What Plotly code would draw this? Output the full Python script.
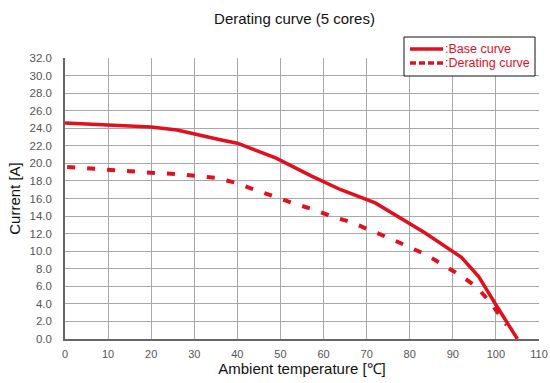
import plotly.graph_objects as go

# 基础曲线
base_x = [0, 10, 20, 26, 31, 36, 40, 49, 57, 64, 72, 83.5, 92, 96, 100, 105]
base_y = [24.6, 24.4, 24.15, 23.8, 23.2, 22.7, 22.3, 20.6, 18.6, 17.0, 15.5, 12.1, 9.3, 7.1, 3.9, 0.0]

# 降额曲线
derate_x = [0.5, 6.5, 11, 16, 21, 25.5, 30, 35, 39.5, 44, 48.5, 52.7, 57.3, 61.7, 66.4, 71,
            75.2, 79.3, 83.8, 87.9, 91.9, 95.6, 98.8, 102.5]
derate_y = [19.6, 19.4, 19.15, 19.0, 18.9, 18.8, 18.6, 18.35, 17.8, 17.0, 16.2, 15.5, 14.8, 14.0,
            13.3, 12.4, 11.5, 10.6, 9.6, 8.4, 7.2, 5.9, 4.1, 1.6]

legend_names = [":Base curve", ":Derating curve"]

RED = '#e0101e'

W, H = 550, 383
L, R, T, B = 65, 11, 58, 44
PW, PH = W - L - R, H - T - B


def px(x):
    """像素 -> paper 坐标"""
    return (x - L) / PW


def py(y):
    return 1 - (y - T) / PH


fig = go.Figure()
fig.add_trace(go.Scatter(
    x=base_x, y=base_y, mode='lines', name=legend_names[0],
    line=dict(color=RED, width=3.5),
))
fig.add_trace(go.Scatter(
    x=derate_x, y=derate_y, mode='lines', name=legend_names[1],
    line=dict(color=RED, width=4, dash='8px,12px'),
))

# 图例（手工绘制，贴近原图的紧凑样式）
shapes = [
    dict(type='rect', xref='paper', yref='paper', x0=px(404), x1=px(535), y0=py(76), y1=py(37),
         line=dict(color='#111', width=1), fillcolor='white', layer='above'),
    dict(type='line', xref='paper', yref='paper', x0=px(410), x1=px(443), y0=py(49), y1=py(49),
         line=dict(color=RED, width=3.5), layer='above'),
    dict(type='line', xref='paper', yref='paper', x0=px(410), x1=px(443), y0=py(63), y1=py(63),
         line=dict(color=RED, width=3.5, dash='6px,3px'), layer='above'),
]
annotations = [
    dict(text=legend_names[i], xref='paper', yref='paper', x=px(443), y=py(yy),
         xanchor='left', yanchor='middle', showarrow=False,
         font=dict(size=12.5, color=RED))
    for i, yy in enumerate([49, 63])
]

fig.update_layout(
    width=W, height=H,
    title=dict(text="Derating curve (5 cores)", x=294.5 / W, xanchor='center',
               y=1 - 19 / H, yanchor='middle', font=dict(size=15, color='#111')),
    font=dict(family='Liberation Sans, Arial, sans-serif'),
    margin=dict(l=L, r=R, t=T, b=B, autoexpand=False),
    paper_bgcolor='white',
    plot_bgcolor='white',
    showlegend=False,
    shapes=shapes,
    annotations=annotations,
)
fig.update_xaxes(
    range=[0, 110], dtick=10, tick0=0, automargin=False,
    showgrid=True, gridcolor='#a8a8a8', gridwidth=1,
    showline=True, linecolor='#666', linewidth=1.5,
    tickfont=dict(size=11, color='#555'), ticks='', ticklabelstandoff=4,
    title=dict(text="Ambient temperature [℃]", font=dict(size=15, color='#111'), standoff=3),
    zeroline=False,
)
fig.update_yaxes(
    range=[0, 32], dtick=2, tickformat='.1f', automargin=False,
    showgrid=True, gridcolor='#a8a8a8', gridwidth=1,
    showline=True, linecolor='#666', linewidth=1.5,
    tickfont=dict(size=11.5, color='#555'), ticks='', ticklabelstandoff=9,
    title=dict(text="Current [A]", font=dict(size=15, color='#111'), standoff=5),
    zeroline=False,
)

# 去掉 body 默认 8px 边距，让图贴满窗口
fig.write_html("out.html", config={'displayModeBar': False},
               post_script="document.body.style.margin='0';")
